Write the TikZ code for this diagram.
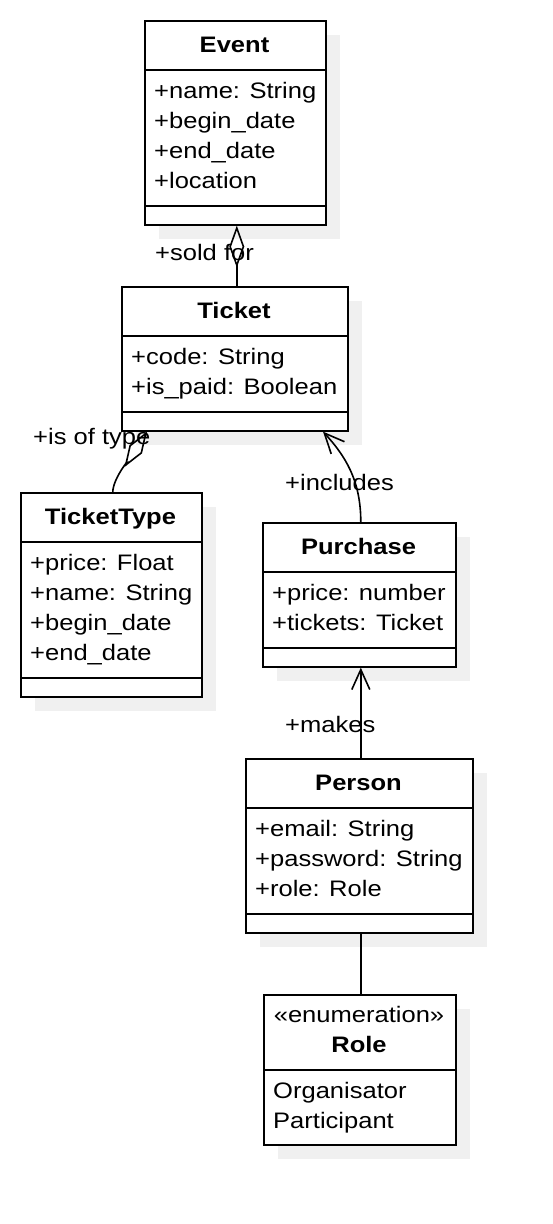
\documentclass[tikz,border=0pt]{standalone}
\usepackage{fontspec}
\setmainfont{Liberation Sans}[FakeStretch=1.14]
\usetikzlibrary{arrows.meta,shadows}
\definecolor{shadowgray}{RGB}{240,240,240}
\begin{document}
\begin{tikzpicture}[x=1pt,y=-1pt,
  box/.style={draw, line width=1.6pt, fill=white, inner sep=0pt, anchor=north west,
    drop shadow={shadow xshift=14pt, shadow yshift=-14pt, fill=shadowgray, opacity=1, draw=none}},
  txt/.style={font=\fontsize{22.4}{30}\selectfont, inner sep=0pt, anchor=base west},
  ttl/.style={font=\fontsize{22.4}{30}\selectfont\bfseries, inner sep=0pt, anchor=base},
  conn/.style={line width=1.6pt},
  barb/.style={-{Straight Barb[length=20pt,width=18pt,line width=1.6pt]}},
  agg/.style={-{Diamond[open,length=42pt,width=15pt,line width=1.6pt]}}]
\path[use as bounding box] (0,0) rectangle (552,1224);

% Event
\node[box, minimum width=181pt, minimum height=204pt] (event) at (144,20) {};
\draw[conn] ([yshift=-50pt]event.north west) -- ([yshift=-50pt]event.north east);
\draw[conn] ([yshift=-186pt]event.north west) -- ([yshift=-186pt]event.north east);
\node[ttl] (eventT) at (234.5,52) {Event};
\node[txt] (eventA1) at (154,98) {+name: String};
\node[txt] (eventA2) at (154,128) {+begin\_date};
\node[txt] (eventA3) at (154,158) {+end\_date};
\node[txt] (eventA4) at (154,188) {+location};

% Ticket
\node[box, minimum width=226pt, minimum height=144pt] (ticket) at (121,286) {};
\draw[conn] ([yshift=-50pt]ticket.north west) -- ([yshift=-50pt]ticket.north east);
\draw[conn] ([yshift=-126pt]ticket.north west) -- ([yshift=-126pt]ticket.north east);
\node[ttl] (ticketT) at (234,318) {Ticket};
\node[txt] (ticketA1) at (131,364) {+code: String};
\node[txt] (ticketA2) at (131,394) {+is\_paid: Boolean};

% TicketType
\node[box, minimum width=181pt, minimum height=204pt] (ttype) at (20,492) {};
\draw[conn] ([yshift=-50pt]ttype.north west) -- ([yshift=-50pt]ttype.north east);
\draw[conn] ([yshift=-186pt]ttype.north west) -- ([yshift=-186pt]ttype.north east);
\node[ttl] (ttypeT) at (110.5,524) {TicketType};
\node[txt] (ttypeA1) at (30,570) {+price: Float};
\node[txt] (ttypeA2) at (30,600) {+name: String};
\node[txt] (ttypeA3) at (30,630) {+begin\_date};
\node[txt] (ttypeA4) at (30,660) {+end\_date};

% Purchase
\node[box, minimum width=193pt, minimum height=144pt] (purchase) at (262,522) {};
\draw[conn] ([yshift=-50pt]purchase.north west) -- ([yshift=-50pt]purchase.north east);
\draw[conn] ([yshift=-126pt]purchase.north west) -- ([yshift=-126pt]purchase.north east);
\node[ttl] (purchaseT) at (358.5,554) {Purchase};
\node[txt] (purchaseA1) at (272,600) {+price: number};
\node[txt] (purchaseA2) at (272,630) {+tickets: Ticket};

% Person
\node[box, minimum width=227pt, minimum height=174pt] (person) at (245,758) {};
\draw[conn] ([yshift=-50pt]person.north west) -- ([yshift=-50pt]person.north east);
\draw[conn] ([yshift=-156pt]person.north west) -- ([yshift=-156pt]person.north east);
\node[ttl] (personT) at (358.5,790) {Person};
\node[txt] (personA1) at (255,836) {+email: String};
\node[txt] (personA2) at (255,866) {+password: String};
\node[txt] (personA3) at (255,896) {+role: Role};

% Role
\node[box, minimum width=192pt, minimum height=150pt] (role) at (263,994) {};
\draw[conn] ([yshift=-76pt]role.north west) -- ([yshift=-76pt]role.north east);
\node[font=\fontsize{22.4}{30}\selectfont, inner sep=0pt, anchor=base] (roleS) at (359,1022) {«enumeration»};
\node[ttl] (roleT) at (359,1052) {Role};
\node[txt] (roleA1) at (273,1098) {Organisator};
\node[txt] (roleA2) at (273,1128) {Participant};

% Labels
\node[txt] (lsold) at (155,260) {+sold for};
\node[txt] (ltype) at (33,444) {+is of type};
\node[txt] (lincl) at (285,490) {+includes};
\node[txt] (lmakes) at (285,732) {+makes};

% Connectors
\draw[conn, agg] ([xshift=2pt]ticket.north) -- ([xshift=2pt]ticket.north |- event.south);
\draw[conn, agg] ([xshift=1.5pt]ttype.north) .. controls +(0,-14) and +(-14,22) .. ([xshift=26pt]ticket.south west);
\draw[conn, barb] ([xshift=1.5pt]purchase.north) .. controls +(0,-42) and +(22,24) .. ([xshift=202pt]ticket.south west);
\draw[conn, barb] ([xshift=1.5pt]person.north) -- ([xshift=1.5pt]person.north |- purchase.south);
\draw[conn] ([xshift=1.5pt]person.south) -- ([xshift=1.5pt]person.south |- role.north);
\end{tikzpicture}
\end{document}
